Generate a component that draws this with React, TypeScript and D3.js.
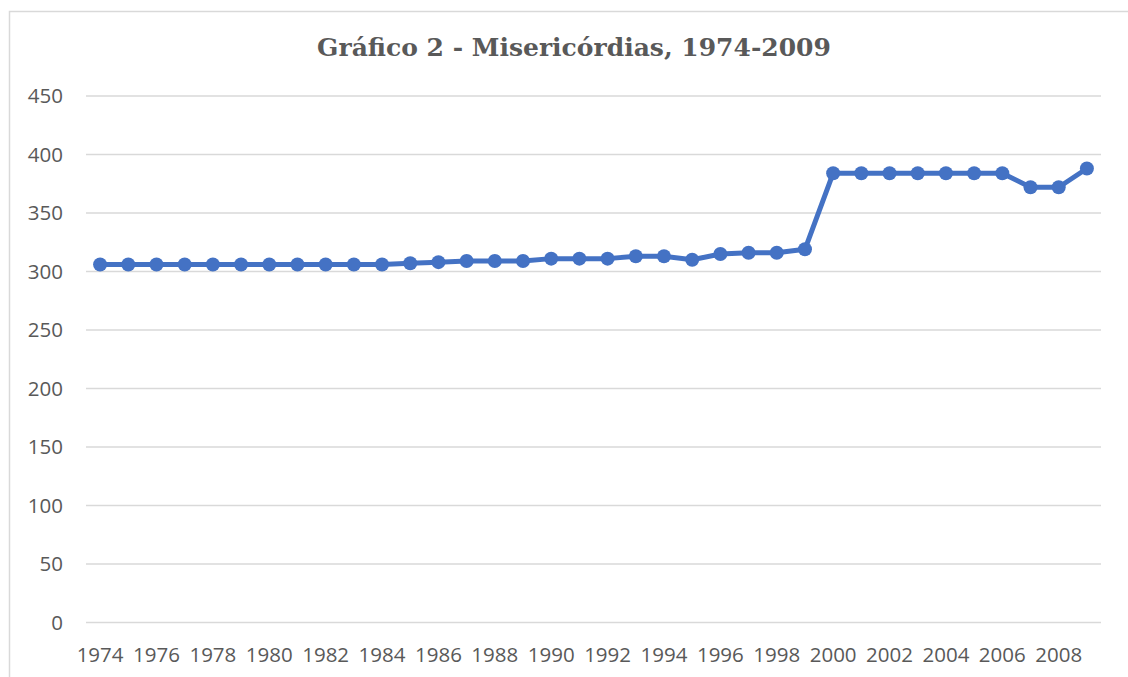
import React from 'react'
import * as d3 from 'd3'

const years = [
	1974, 1975, 1976, 1977, 1978, 1979, 1980, 1981, 1982, 1983, 1984, 1985,
	1986, 1987, 1988, 1989, 1990, 1991, 1992, 1993, 1994, 1995, 1996, 1997,
	1998, 1999, 2000, 2001, 2002, 2003, 2004, 2005, 2006, 2007, 2008, 2009,
]
const misericordias = [
	306, 306, 306, 306, 306, 306, 306, 306, 306, 306, 306, 307,
	308, 309, 309, 309, 311, 311, 311, 313, 313, 310, 315, 316,
	316, 319, 384, 384, 384, 384, 384, 384, 384, 372, 372, 388,
]
const yTicks = [0, 50, 100, 150, 200, 250, 300, 350, 400, 450]
const title = 'Gráfico 2 - Misericórdias, 1974-2009'

const W = 1128
const H = 677
const textColor = '#595959'
const lineColor = '#4472C4'

export default function App() {
	const x = d3.scaleBand<number>().domain(years).range([86, 1101]).padding(0)
	const y = d3.scaleLinear().domain([0, 450]).range([622.5, 96])
	const cx = (yr: number) => (x(yr) ?? 0) + x.bandwidth() / 2

	const data = years.map((yr, i) => ({ yr, v: misericordias[i] }))
	const path = d3
		.line<{ yr: number; v: number }>()
		.x((d) => cx(d.yr))
		.y((d) => y(d.v))(data)

	return (
		<svg
			width={W}
			height={H}
			style={{ position: 'absolute', left: 0, top: 0, background: '#fff' }}
		>
			{/* chart frame */}
			<rect x={9.5} y={11.5} width={W + 10} height={H + 10} fill="#fff" stroke="#d9d9d9" strokeWidth={1.5} />

			<text
				x={574}
				y={56}
				textAnchor="middle"
				fontFamily="'DejaVu Serif', serif"
				fontWeight="bold"
				fontSize={25}
				fill={textColor}
			>
				{title}
			</text>

			{/* gridlines + y labels */}
			{yTicks.map((t) => (
				<g key={t}>
					<line x1={86} x2={1101} y1={y(t)} y2={y(t)} stroke="#d9d9d9" strokeWidth={1.5} />
					<text
						x={63}
						y={y(t)}
						dy="0.35em"
						textAnchor="end"
						fontFamily="'Open Sans', sans-serif"
						fontSize={20.5}
						fill={textColor}
					>
						{t}
					</text>
				</g>
			))}

			{/* x labels, every other year */}
			{years
				.filter((yr) => (yr - 1974) % 2 === 0)
				.map((yr) => (
					<text
						key={yr}
						x={cx(yr)}
						y={654.5}
						dy="0.35em"
						textAnchor="middle"
						fontFamily="'Open Sans', sans-serif"
						fontSize={20.5}
						fill={textColor}
					>
						{yr}
					</text>
				))}

			<path d={path ?? ''} fill="none" stroke={lineColor} strokeWidth={5} strokeLinejoin="round" />
			{data.map((d) => (
				<circle key={d.yr} cx={cx(d.yr)} cy={y(d.v)} r={7} fill={lineColor} />
			))}
		</svg>
	)
}
